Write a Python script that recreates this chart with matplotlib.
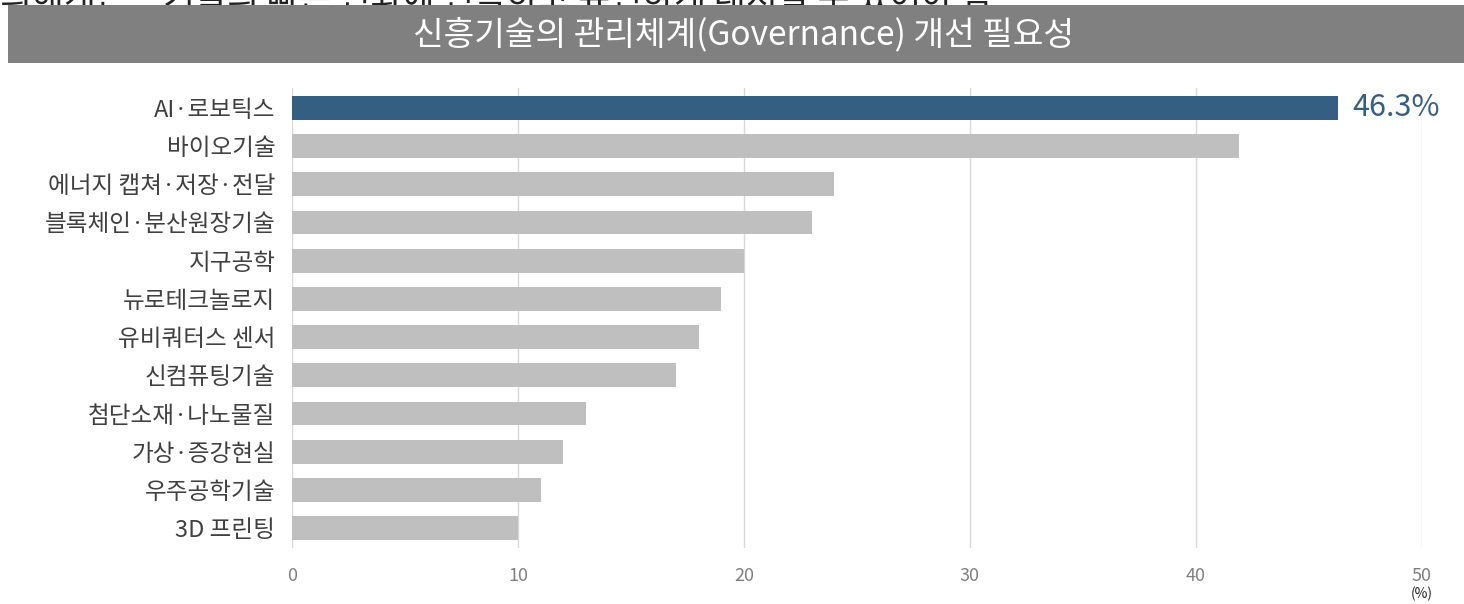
import matplotlib
matplotlib.use('Agg')
import matplotlib.pyplot as plt
from matplotlib.patches import Rectangle

plt.rcParams['font.family'] = ['Noto Sans CJK KR', 'DejaVu Sans']

categories = ['AI·로보틱스', '바이오기술', '에너지 캡쳐·저장·전달', '블록체인·분산원장기술',
              '지구공학', '뉴로테크놀로지', '유비쿼터스 센서', '신컴퓨팅기술',
              '첨단소재·나노물질', '가상·증강현실', '우주공학기술', '3D 프린팅']
values = [46.3, 41.9, 24.0, 23.0, 20.0, 19.0, 18.0, 17.0, 13.0, 12.0, 11.0, 10.0]
xticks = [0, 10, 20, 30, 40, 50]

HIGHLIGHT = '#355F82'
GRAY = '#BFBFBF'

fig = plt.figure(figsize=(14.64, 6.04), dpi=100)

# cut-off sentence from the page above, mostly hidden by the banner
fig.text(0.0, 1.0 + 0.03, '의해개는 · 기술의 빠른 변화에 신속하고 유연하게 대처할 수 있어야 함',
         fontsize=25, color='#222222', ha='left', va='top', zorder=1)
fig.patches.append(Rectangle((8 / 1464, 1 - 63 / 604), 1, 58 / 604,
                             transform=fig.transFigure, facecolor='#808080',
                             edgecolor='none', zorder=2))
fig.text(0.508, 1 - 35 / 604, '신흥기술의 관리체계(Governance) 개선 필요성',
         fontsize=24, color='white', ha='center', va='center', zorder=3)

ax = fig.add_axes([292 / 1464, 1 - 548 / 604, 1130 / 1464, 460 / 604])
ypos = list(range(len(categories)))
colors = [HIGHLIGHT] + [GRAY] * (len(categories) - 1)
ax.barh(ypos, values, height=0.62, color=colors, zorder=3)
ax.set_ylim(len(categories) - 0.48, -0.52)
ax.set_xlim(0, 50)
ax.set_xticks(xticks)
ax.set_xticklabels([str(t) for t in xticks], fontsize=13, color='#808080')
ax.set_yticks(ypos)
ax.set_yticklabels(categories, fontsize=17, color='#404040')
ax.tick_params(axis='y', length=0, pad=12)
ax.tick_params(axis='x', length=0, pad=14)
ax.grid(True, axis='x', color='#D9D9D9', linewidth=1, zorder=0)
for s in ax.spines.values():
    s.set_visible(False)

ax.text(values[0] + 0.6, 0, f'{values[0]:.1f}%', va='center', ha='left',
        fontsize=22, color=HIGHLIGHT)
ax.text(50, -0.1, '(%)', transform=ax.get_xaxis_transform(), ha='center', va='center',
        fontsize=10, color='#222222')

fig.savefig('out.png', dpi=100)
